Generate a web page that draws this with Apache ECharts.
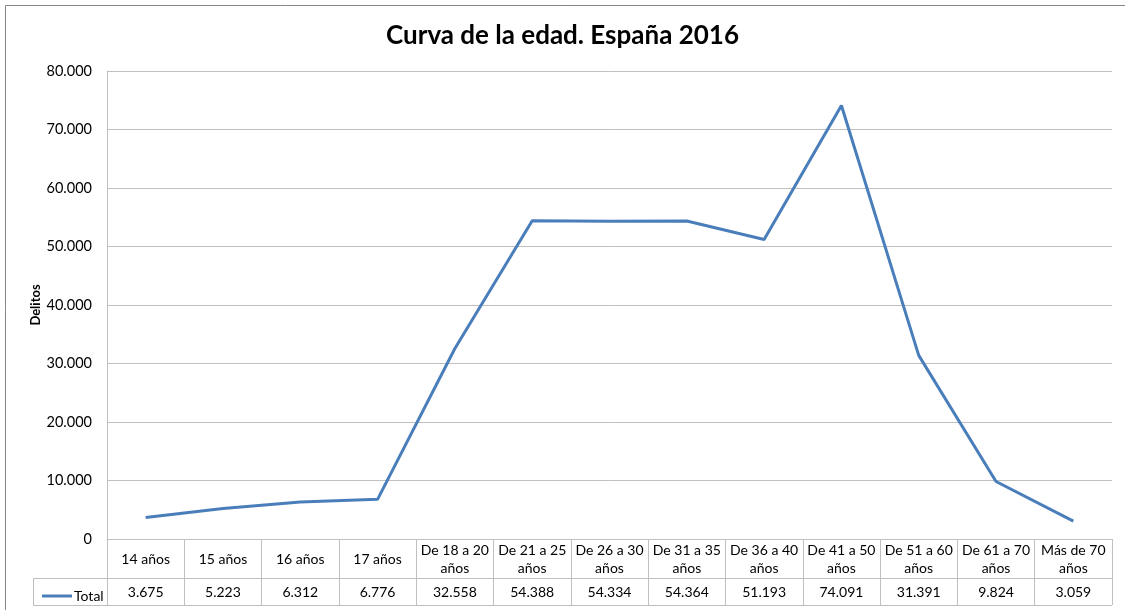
<!DOCTYPE html>
<html>
<head>
<meta charset="utf-8">
<script src="https://cdn.jsdelivr.net/npm/echarts@6/dist/echarts.min.js"></script>
<style>
  html, body { margin: 0; padding: 0; background: #fff; }
  #chart { width: 1125px; height: 610px; }
</style>
</head>
<body>
<div id="chart"></div>
<script>
  // datos: delitos por grupo de edad, España 2016
  const categorias = ['14 años', '15 años', '16 años', '17 años', 'De 18 a 20 años', 'De 21 a 25 años',
    'De 26 a 30 años', 'De 31 a 35 años', 'De 36 a 40 años', 'De 41 a 50 años', 'De 51 a 60 años',
    'De 61 a 70 años', 'Más de 70 años'];
  const total = [3675, 5223, 6312, 6776, 32558, 54388, 54334, 54364, 51193, 74091, 31391, 9824, 3059];
  const yTicks = { min: 0, max: 80000, step: 10000 };

  const gris = '#bfbfbf';
  const fuente = 'Lato, "Liberation Sans", sans-serif';

  // separador de miles con punto
  function miles(v) {
    return String(v).replace(/\B(?=(\d{3})+(?!\d))/g, '.');
  }

  const chart = echarts.init(document.getElementById('chart'));

  const option = {
    backgroundColor: '#fff',
    textStyle: { fontFamily: fuente },
    title: {
      text: 'Curva de la edad. España 2016',
      left: 'center',
      top: 18,
      textStyle: { fontFamily: fuente, fontSize: 26, fontWeight: 'bold', color: '#000' }
    },
    legend: {
      left: 37,
      top: 584,
      itemWidth: 30,
      itemHeight: 3,
      itemGap: 2,
      textStyle: { fontFamily: fuente, fontSize: 14, color: '#000', padding: [0, 0, 3, -3] },
      data: [{ name: 'Total', icon: 'rect' }]
    },
    grid: { left: 107, right: 13, top: 71, bottom: 71 },
    xAxis: [
      {
        type: 'category',
        data: categorias,
        boundaryGap: true,
        axisLine: { lineStyle: { color: gris, width: 1 } },
        axisTick: { show: true, length: 66, interval: 0, lineStyle: { color: gris } },
        axisLabel: {
          interval: 0,
          margin: 20,
          verticalAlign: 'middle',
          lineHeight: 18,
          fontSize: 14,
          color: '#000',
          fontFamily: fuente,
          formatter: v => v.length > 8 ? v.replace(/ años$/, '\naños') : v
        }
      },
      {
        type: 'category',
        position: 'bottom',
        offset: 39,
        data: total.map(miles),
        boundaryGap: true,
        axisLine: { show: true, lineStyle: { color: gris, width: 1 } },
        axisTick: { show: false },
        axisLabel: {
          interval: 0,
          margin: 14,
          verticalAlign: 'middle',
          fontSize: 14,
          color: '#000',
          fontFamily: fuente
        }
      }
    ],
    yAxis: {
      type: 'value',
      min: yTicks.min,
      max: yTicks.max,
      interval: yTicks.step,
      name: 'Delitos',
      nameLocation: 'middle',
      nameRotate: 90,
      nameGap: 71,
      nameMoveOverlap: false,
      nameTextStyle: { fontFamily: fuente, fontSize: 13, fontWeight: 'bold', color: '#000', verticalAlign: 'middle' },
      axisLine: { show: true, lineStyle: { color: gris } },
      axisTick: { show: false },
      splitLine: { lineStyle: { color: gris, width: 1 } },
      axisLabel: {
        margin: 15,
        fontSize: 14.5,
        color: '#000',
        fontFamily: fuente,
        formatter: v => miles(v)
      }
    },
    series: [
      {
        name: 'Total',
        type: 'line',
        data: total,
        symbol: 'none',
        lineStyle: { color: '#4a7ebb', width: 3 },
        itemStyle: { color: '#4a7ebb' }
      }
    ],
    graphic: [
      // marco exterior del gráfico
      { type: 'rect', shape: { x: 5.5, y: 5.5, width: 1200, height: 700 }, style: { fill: 'none', stroke: '#868686', lineWidth: 1 }, silent: true },
      // celda de la leyenda y línea inferior de la tabla
      { type: 'rect', shape: { x: 33.5, y: 578.5, width: 74, height: 27 }, style: { fill: 'none', stroke: gris, lineWidth: 1 }, silent: true },
      { type: 'line', shape: { x1: 107, y1: 605.5, x2: 1112, y2: 605.5 }, style: { stroke: gris, lineWidth: 1 }, silent: true }
    ]
  };

  chart.setOption(option);
</script>
</body>
</html>
